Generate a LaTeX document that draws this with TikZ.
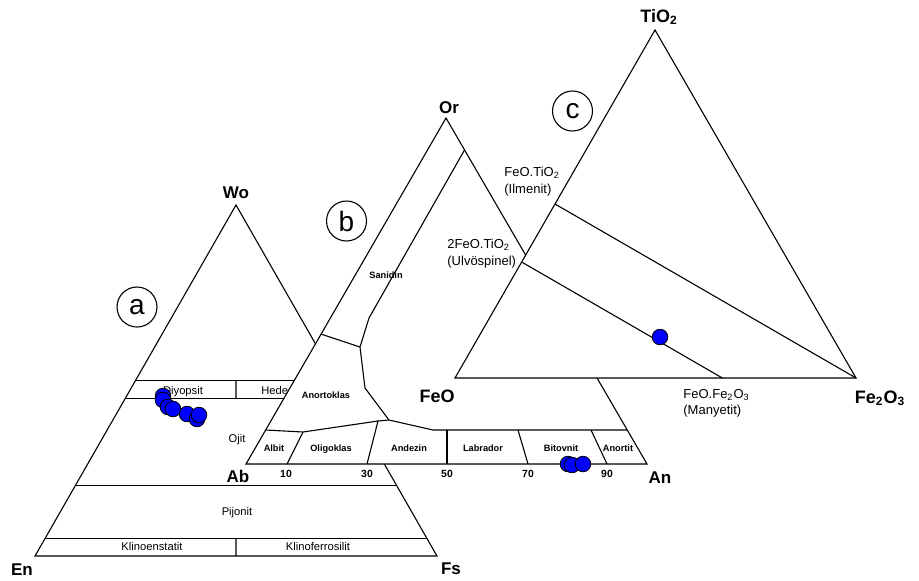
\documentclass[tikz,border=0pt]{standalone}
\usepackage{fontspec}
\setmainfont{Liberation Sans}
\usetikzlibrary{calc}
\tikzset{
  ln/.style={line width=0.55pt, line join=miter},
  tri/.style={ln, fill=white},
  big/.style={font=\fontsize{8.5}{9}\selectfont\bfseries, inner sep=0, anchor=base},
  bigg/.style={font=\fontsize{9}{10}\selectfont\bfseries, inner sep=0, anchor=base},
  sm/.style={font=\fontsize{5.6}{6}\selectfont, inner sep=0, anchor=base},
  fb/.style={font=\fontsize{4.6}{5}\selectfont\bfseries, inner sep=0, anchor=base},
  num/.style={font=\fontsize{5.2}{6}\selectfont\bfseries, inner sep=0, anchor=base},
  cl/.style={font=\fontsize{6.5}{7}\selectfont, inner sep=0, anchor=west},
  circ/.style={circle, draw, line width=0.55pt, minimum size=20pt, inner sep=0, font=\fontsize{14}{14}\selectfont},
  dot/.style={circle, draw=black, fill=blue, line width=0.4pt, minimum size=7.8pt, inner sep=0}
}
\begin{document}
\begin{tikzpicture}[x=0.5pt,y=-0.5pt]
\useasboundingbox (0,0) rectangle (919,580);
% ---------------- (a) pyroxene triangle ----------------
\coordinate (Wo) at (236,205);
\coordinate (En) at (35,556);
\coordinate (Fs) at (437,556);
\draw[ln] (Wo) -- (En) -- (Fs) -- cycle;
\coordinate (a50l) at ($(En)!0.5!(Wo)$);   \coordinate (a50r) at ($(Fs)!0.5!(Wo)$);
\coordinate (a45l) at ($(En)!0.45!(Wo)$);  \coordinate (a45r) at ($(Fs)!0.45!(Wo)$);
\coordinate (a20l) at ($(En)!0.2!(Wo)$);   \coordinate (a20r) at ($(Fs)!0.2!(Wo)$);
\coordinate (a05l) at ($(En)!0.05!(Wo)$);  \coordinate (a05r) at ($(Fs)!0.05!(Wo)$);
\draw[ln] (a50l) -- (a50r);
\draw[ln] (a45l) -- (a45r);
\draw[ln] (a20l) -- (a20r);
\draw[ln] (a05l) -- (a05r);
\coordinate (m50) at ($(a50l)!0.5!(a50r)$); \coordinate (m45) at ($(a45l)!0.5!(a45r)$);
\coordinate (m05) at ($(a05l)!0.5!(a05r)$); \coordinate (m00) at ($(En)!0.5!(Fs)$);
\draw[ln] (m50) -- (m45);
\draw[ln] (m05) -- (m00);
\node[sm] (diy) at (183,394) {Diyopsit};
\node[sm, anchor=base west] (hed) at (261,394) {Hede};
\node[sm] (ojit) at (237,442) {Ojit};
\node[sm] (pij) at (237,515) {Pijonit};
\node[sm] (kle) at (152,550) {Klinoenstatit};
\node[sm] (klf) at (318,550) {Klinoferrosilit};
\node[big] (lWo) at (236,198) {Wo};
\node[big] (lEn) at (22,575) {En};
\node[big] (lFs) at (451,574) {Fs};
\node[circ] (ca) at (137,307) {a};
\node[dot] (a1) at (163,396) {};
\node[dot] (a2) at (163,400) {};
\node[dot] (a3) at (168,407) {};
\node[dot] (a4) at (173,409) {};
\node[dot] (a5) at (187,414) {};
\node[dot] (a7) at (197,419) {};
\node[dot] (a6) at (199,415) {};
% ---------------- (b) feldspar triangle ----------------
\coordinate (Or) at (446,118);
\coordinate (Ab) at (246,464);
\coordinate (An) at (647,464);
\draw[tri] (Or) -- (Ab) -- (An) -- cycle;
\coordinate (s1) at (464.5,150);
\coordinate (s2) at (369,318);
\coordinate (s3) at (360,347);
\coordinate (s4) at (321,334);
\coordinate (s5) at (365,388);
\coordinate (s6) at (389,420);
\coordinate (s7) at (433,430);
\coordinate (s8) at (627,430);
\coordinate (p1) at (265.7,430);
\coordinate (p2) at (303,432);
\coordinate (p3) at (378,421);
\draw[ln] (s1) -- (s2) -- (s3);
\draw[ln] (s4) -- (s3) -- (s5) -- (s6) -- (s7) -- (s8);
\draw[ln] (p1) -- (p2) -- (p3) -- (s6);
\coordinate (b10) at (287,464);
\coordinate (b30) at (367,464);
\coordinate (b50) at (447,464);
\coordinate (b70) at (528,464);
\coordinate (b90) at (607,464);
\draw[ln] (b10) -- (p2);
\draw[ln] (b30) -- (p3);
\draw[ln] (b50) -- (447,430);
\draw[ln] (b70) -- (518,430);
\draw[ln] (b90) -- (591,430);
\node[fb] (san) at (386,278) {Sanidin};
\node[fb] (ank) at (326,398) {Anortoklas};
\node[fb] (alb) at (274,451) {Albit};
\node[fb] (oli) at (331,451) {Oligoklas};
\node[fb] (and) at (409,451) {Andezin};
\node[fb] (lab) at (483,451) {Labrador};
\node[fb] (bit) at (561,451) {Bitovnit};
\node[fb] (ano) at (618,451) {Anortit};
\node[num] (n10) at (286,477) {10};
\node[num] (n30) at (367,477) {30};
\node[num] (n50) at (447,477) {50};
\node[num] (n70) at (528,477) {70};
\node[num] (n90) at (607,477) {90};
\node[big] (lOr) at (449,113) {Or};
\node[big] (lAb) at (238,482) {Ab};
\node[big] (lAn) at (660,483) {An};
\node[circ] (cb) at (346.5,221) {b};
\node[dot] (b1) at (568,464) {};
\node[dot] (b2) at (572,465) {};
\node[dot] (b3) at (583,464) {};
% ---------------- (c) FeO-TiO2-Fe2O3 triangle ----------------
\coordinate (Ti) at (655,30);
\coordinate (Fe) at (455,378);
\coordinate (Ft) at (856,378);
\draw[tri] (Ti) -- (Fe) -- (Ft) -- cycle;
\coordinate (ilm) at ($(Fe)!0.5!(Ti)$);
\coordinate (ulv) at ($(Fe)!0.3333!(Ti)$);
\coordinate (mag) at ($(Fe)!0.6667!(Ft)$);
\draw[ln] (ilm) -- (Ft);
\draw[ln] (ulv) -- (mag);
\node[bigg] (lTi) at (659,22) {TiO\textsubscript{2}};
\node[bigg] (lFe) at (437,402) {FeO};
\node[bigg] (lFt) at (880,403) {Fe\textsubscript{2}O\textsubscript{3}};
\node[cl] (t1) at (504,173) {FeO.TiO\textsubscript{2}};
\node[cl] (t2) at (504,190) {(Ilmenit)};
\node[cl] (t3) at (447,245) {2FeO.TiO\textsubscript{2}};
\node[cl] (t4) at (447,262) {(Ulvöspinel)};
\node[cl] (t5) at (683,395) {FeO.Fe\textsubscript{2}O\textsubscript{3}};
\node[cl] (t6) at (683,411) {(Manyetit)};
\node[circ] (cc) at (572.5,111) {c};
\node[dot] (c1) at (660,337) {};
\end{tikzpicture}
\end{document}
